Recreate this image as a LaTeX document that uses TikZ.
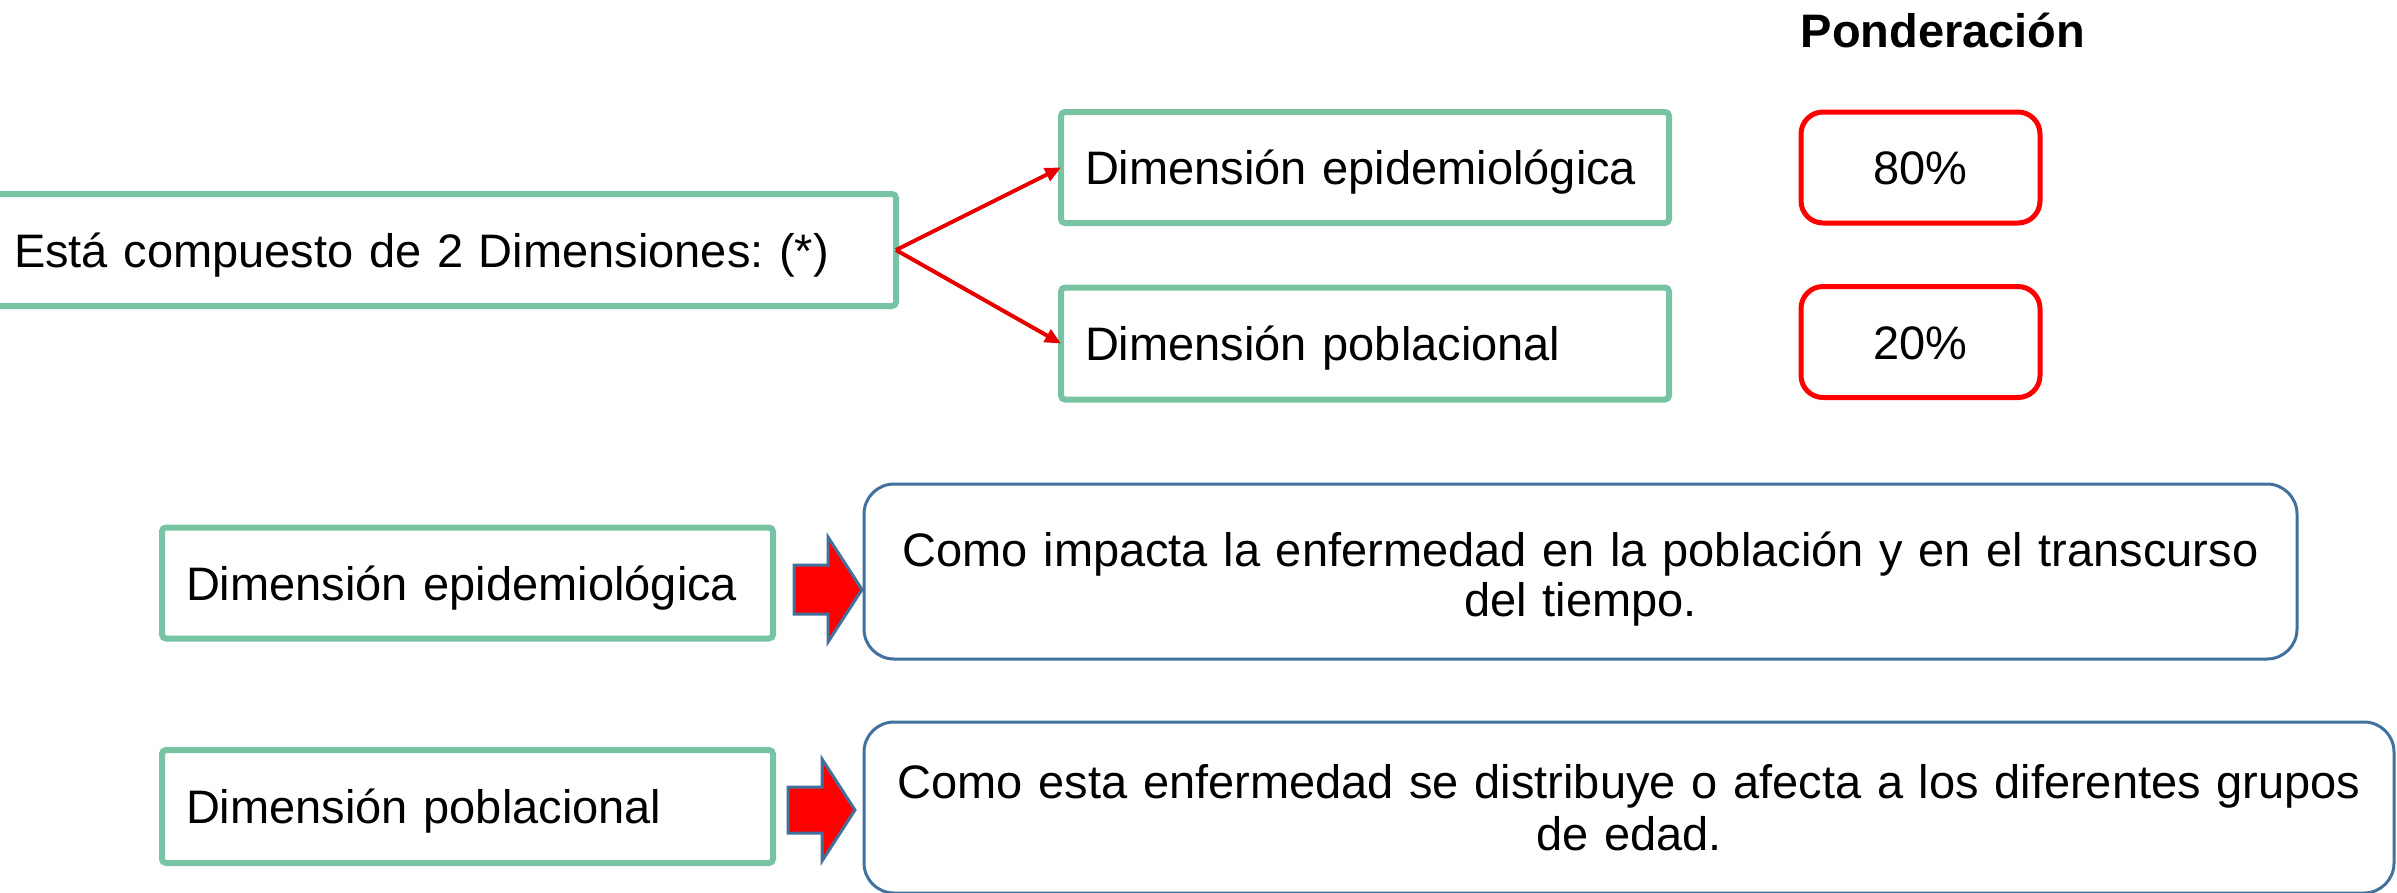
\documentclass[tikz,border=0pt]{standalone}
\usepackage{fontspec}
\setmainfont{Liberation Sans}
\usetikzlibrary{arrows.meta}
\definecolor{boxgreen}{HTML}{78C3A4}
\definecolor{boxblue}{HTML}{41719C}
\definecolor{arrowred}{HTML}{E80000}
\frenchspacing
\hyphenpenalty=10000
\exhyphenpenalty=10000
\begin{document}
\begin{tikzpicture}[x=1pt,y=-1pt,
  every node/.style={font=\fontsize{47}{50}\selectfont, outer sep=0pt},
  greenbox/.style={draw=boxgreen, line width=6pt, rounded corners=4pt, fill=white,
    align=left, inner xsep=24pt, inner ysep=0pt, text height=34pt, text depth=0pt},
  pctbox/.style={draw=red, line width=5pt, rounded corners=22pt, fill=white,
    align=center, minimum width=239pt, minimum height=111pt, text height=34pt, text depth=0pt},
  descbox/.style={draw=boxblue, line width=3pt, rounded corners=30pt, fill=white,
    align=center, inner sep=0pt},
  redarrow/.style={draw=arrowred, line width=4pt, -{Triangle[length=16pt,width=14pt]}},
  blockarrow/.style={fill=red, draw=boxblue, line width=3pt, line join=miter}
]
\useasboundingbox (0,0) rectangle (2397,892);

% top part
\node[greenbox, minimum width=906pt, minimum height=112pt, text width=858pt] (main) at (443,250)
  {Está compuesto de 2 Dimensiones: (*)};
\node[greenbox, minimum width=608pt, minimum height=111pt, text width=560pt] (epiT) at (1365,167.5)
  {Dimensión epidemiológica};
\node[greenbox, minimum width=608pt, minimum height=112pt, text width=560pt] (pobT) at (1365,343.5)
  {Dimensión poblacional};
\node[font=\fontsize{47}{50}\selectfont\bfseries, anchor=base] (pond) at (1943,47) {Ponderación};
\node[pctbox] (p80) at (1920.5,167.5) {80\%};
\node[pctbox] (p20) at (1920.5,342) {20\%};

\draw[redarrow] (main.east) -- (epiT.west);
\draw[redarrow] (main.east) -- (pobT.west);

% bottom part
\node[greenbox, minimum width=611pt, minimum height=111pt, text width=563pt] (epiB) at (467.5,583)
  {Dimensión epidemiológica};
\node[greenbox, minimum width=611pt, minimum height=113pt, text width=563pt] (pobB) at (467.5,806.5)
  {Dimensión poblacional};

\node[descbox, minimum width=1433pt, minimum height=175pt, text width=1420pt] (descA) at (1580.5,571.5)
  {\rule{0pt}{50pt}Como impacta la enfermedad en la población y en el transcurso\\del tiempo.};
\node[descbox, minimum width=1530pt, minimum height=171pt, text width=1500pt] (descB) at (1629,807.5)
  {Como esta enfermedad se distribuye o afecta a los diferentes grupos\\[2pt]de edad.};

\draw[blockarrow] (794,565) -- (828,565) -- (828,537) -- (862,589.5) -- (828,642) -- (828,614) -- (794,614) -- cycle;
\draw[blockarrow] (788,787) -- (822,787) -- (822,759) -- (855,810) -- (822,861) -- (822,833) -- (788,833) -- cycle;
\end{tikzpicture}
\end{document}
